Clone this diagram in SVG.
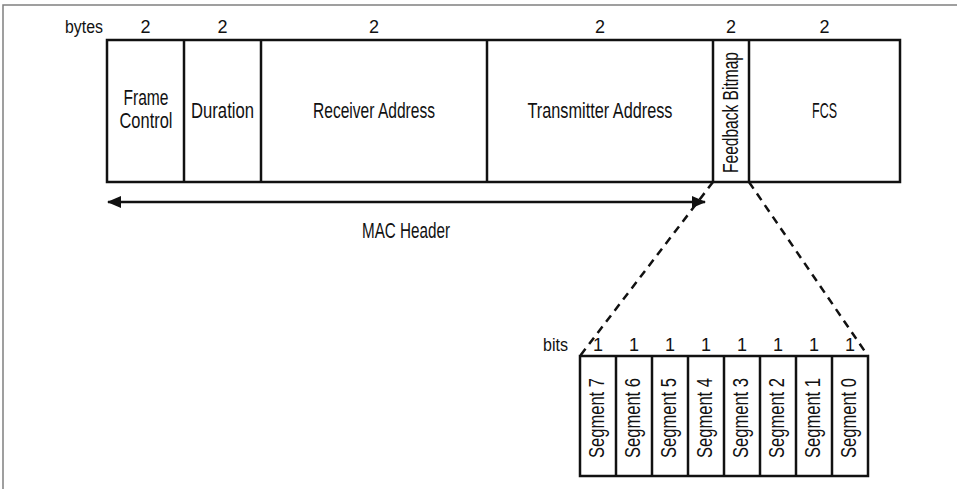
<svg xmlns="http://www.w3.org/2000/svg" width="957" height="489" viewBox="0 0 957 489">
<style>
.t{font-family:"Liberation Sans",Arial,sans-serif;fill:#111;}
.lbl{font-size:21.5px;text-anchor:middle;}
.num{font-size:18px;text-anchor:middle;}
.box{fill:#fff;stroke:#111;stroke-width:2.5;}
.div{stroke:#111;stroke-width:2.5;}
.dash{stroke:#111;stroke-width:2.5;stroke-dasharray:8 6;fill:none;}
</style>
<defs>
<marker id="ah" markerWidth="14" markerHeight="12" refX="13" refY="6" orient="auto-start-reverse" markerUnits="userSpaceOnUse">
<path d="M0,0 L14,6 L0,12 Z" fill="#111"/>
</marker>
</defs>
<rect width="957" height="489" fill="#fff"/>
<path d="M3,489 V5 H957" fill="none" stroke="#808080" stroke-width="1.5"/>

<g id="frame">
<text class="t" x="103" y="33" font-size="18" text-anchor="end" textLength="38" lengthAdjust="spacingAndGlyphs">bytes</text>
<rect class="box" x="107" y="40" width="793" height="142"/>
<line class="div" x1="184" y1="40" x2="184" y2="182"/>
<line class="div" x1="261" y1="40" x2="261" y2="182"/>
<line class="div" x1="487" y1="40" x2="487" y2="182"/>
<line class="div" x1="713" y1="40" x2="713" y2="182"/>
<line class="div" x1="749" y1="40" x2="749" y2="182"/>
</g>
<g id="frame-control">
<text class="t num" x="145.5" y="33">2</text>
<text class="t lbl" x="146" y="105" textLength="45" lengthAdjust="spacingAndGlyphs">Frame</text>
<text class="t lbl" x="146" y="128" textLength="53" lengthAdjust="spacingAndGlyphs">Control</text>
</g>
<g id="duration">
<text class="t num" x="222.5" y="33">2</text>
<text class="t lbl" x="222.5" y="118" textLength="63" lengthAdjust="spacingAndGlyphs">Duration</text>
</g>
<g id="receiver">
<text class="t num" x="374" y="33">2</text>
<text class="t lbl" x="374" y="118" textLength="122" lengthAdjust="spacingAndGlyphs">Receiver Address</text>
</g>
<g id="transmitter">
<text class="t num" x="600" y="33">2</text>
<text class="t lbl" x="600" y="118" textLength="145" lengthAdjust="spacingAndGlyphs">Transmitter Address</text>
</g>
<g id="feedback">
<text class="t num" x="731" y="33">2</text>
<text class="t lbl" transform="translate(738,112.5) rotate(-90)" x="0" y="0" textLength="121" lengthAdjust="spacingAndGlyphs">Feedback Bitmap</text>
</g>
<g id="fcs">
<text class="t num" x="824.5" y="33">2</text>
<text class="t lbl" x="824.5" y="118" textLength="25" lengthAdjust="spacingAndGlyphs">FCS</text>
</g>

<g id="connectors">
<line x1="108" y1="202" x2="705" y2="202" stroke="#111" stroke-width="2.5" marker-start="url(#ah)" marker-end="url(#ah)"/>
<line class="dash" x1="713" y1="182" x2="580" y2="356"/>
<line class="dash" x1="749" y1="182" x2="868" y2="356"/>
</g>
<g id="mac-header">
<text class="t lbl" x="406" y="238" textLength="88" lengthAdjust="spacingAndGlyphs">MAC Header</text>
</g>

<g id="bits">
<text class="t" x="568" y="351" font-size="18" text-anchor="end" textLength="25" lengthAdjust="spacingAndGlyphs">bits</text>
<rect class="box" x="580" y="356" width="288" height="120"/>
<line class="div" x1="616" y1="356" x2="616" y2="476"/>
<line class="div" x1="652" y1="356" x2="652" y2="476"/>
<line class="div" x1="688" y1="356" x2="688" y2="476"/>
<line class="div" x1="724" y1="356" x2="724" y2="476"/>
<line class="div" x1="760" y1="356" x2="760" y2="476"/>
<line class="div" x1="796" y1="356" x2="796" y2="476"/>
<line class="div" x1="832" y1="356" x2="832" y2="476"/>
</g>
<g id="seg7"><text class="t num" x="598" y="351">1</text><text class="t lbl" transform="translate(604,418) rotate(-90)" textLength="80" lengthAdjust="spacingAndGlyphs">Segment 7</text></g>
<g id="seg6"><text class="t num" x="634" y="351">1</text><text class="t lbl" transform="translate(640,418) rotate(-90)" textLength="80" lengthAdjust="spacingAndGlyphs">Segment 6</text></g>
<g id="seg5"><text class="t num" x="670" y="351">1</text><text class="t lbl" transform="translate(676,418) rotate(-90)" textLength="80" lengthAdjust="spacingAndGlyphs">Segment 5</text></g>
<g id="seg4"><text class="t num" x="706" y="351">1</text><text class="t lbl" transform="translate(712,418) rotate(-90)" textLength="80" lengthAdjust="spacingAndGlyphs">Segment 4</text></g>
<g id="seg3"><text class="t num" x="742" y="351">1</text><text class="t lbl" transform="translate(748,418) rotate(-90)" textLength="80" lengthAdjust="spacingAndGlyphs">Segment 3</text></g>
<g id="seg2"><text class="t num" x="778" y="351">1</text><text class="t lbl" transform="translate(784,418) rotate(-90)" textLength="80" lengthAdjust="spacingAndGlyphs">Segment 2</text></g>
<g id="seg1"><text class="t num" x="814" y="351">1</text><text class="t lbl" transform="translate(820,418) rotate(-90)" textLength="80" lengthAdjust="spacingAndGlyphs">Segment 1</text></g>
<g id="seg0"><text class="t num" x="850" y="351">1</text><text class="t lbl" transform="translate(856,418) rotate(-90)" textLength="80" lengthAdjust="spacingAndGlyphs">Segment 0</text></g>
</svg>
